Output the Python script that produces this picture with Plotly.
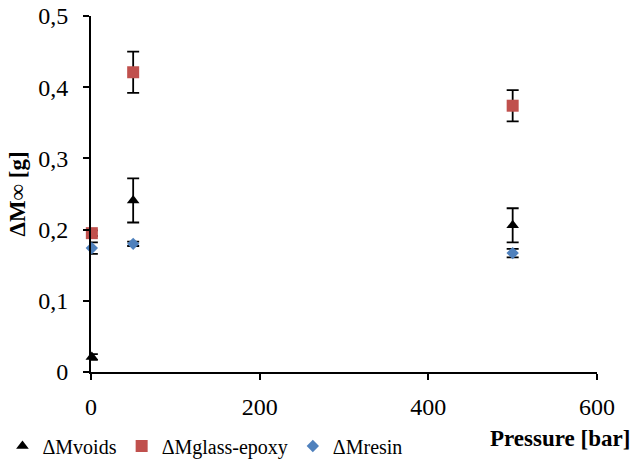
import plotly.graph_objects as go

# Data
pressure_voids = [1, 50, 500]
voids = [0.021, 0.241, 0.206]
voids_err = [0.004, 0.031, 0.024]

pressure_glass = [1, 50, 500]
glass = [0.195, 0.421, 0.374]
glass_err = [0.004, 0.029, 0.022]

pressure_resin = [1, 50, 500]
resin = [0.174, 0.180, 0.167]
resin_err = [0.008, 0.003, 0.006]

x_ticks = [0, 200, 400, 600]
y_ticks = [0, 0.1, 0.2, 0.3, 0.4, 0.5]

FONT = "Liberation Serif, Times New Roman, serif"

fig = go.Figure()

def add(x, y, e, name, symbol, color, size):
    fig.add_trace(go.Scatter(
        x=x, y=y, mode="markers", name=name, cliponaxis=False,
        marker=dict(symbol=symbol, color=color, size=size),
        error_y=dict(type="data", array=e, visible=True, color="black",
                     thickness=1.8, width=6),
    ))

add(pressure_voids, voids, voids_err, "ΔMvoids", "triangle-up", "black", 11)
add(pressure_glass, glass, glass_err, "ΔMglass-epoxy", "square", "#C0504D", 12)
add(pressure_resin, resin, resin_err, "ΔMresin", "diamond", "#4F81BD", 9.5)

fig.update_layout(
    width=634, height=470,
    margin=dict(l=91, r=37, t=16, b=98, autoexpand=False),
    plot_bgcolor="white", paper_bgcolor="white",
    separators=",.",
    font=dict(family=FONT, size=24, color="black"),
    showlegend=True,
    legend=dict(orientation="h", x=-0.175, y=-0.208, xanchor="left", yanchor="middle",
                font=dict(family=FONT, size=20), itemwidth=30, tracegroupgap=0,
                bgcolor="rgba(0,0,0,0)"),
    xaxis=dict(range=[0, 600], tickvals=x_ticks, showgrid=False, zeroline=False,
               showline=True, linecolor="black", linewidth=2,
               ticks="outside", ticklen=6, tickcolor="black", tickwidth=2,
               ticklabelstandoff=6,
               tickfont=dict(family=FONT, size=24)),
    yaxis=dict(range=[0, 0.5], tickvals=y_ticks, showgrid=False, zeroline=False,
               showline=True, linecolor="black", linewidth=2,
               ticks="outside", ticklen=6, tickcolor="black", tickwidth=2,
               ticklabelstandoff=10,
               tickfont=dict(family=FONT, size=24),
               title=dict(text="<b>ΔM∞ [g]</b>", font=dict(family=FONT, size=23), standoff=6)),
    annotations=[dict(text="<b>Pressure [bar]</b>", xref="paper", yref="paper",
                      x=1.069, y=-0.188, xanchor="right", yanchor="middle",
                      showarrow=False, font=dict(family=FONT, size=23))],
)

fig.write_html("out.html", config={"displayModeBar": False},
               post_script="document.body.style.margin='0';")
